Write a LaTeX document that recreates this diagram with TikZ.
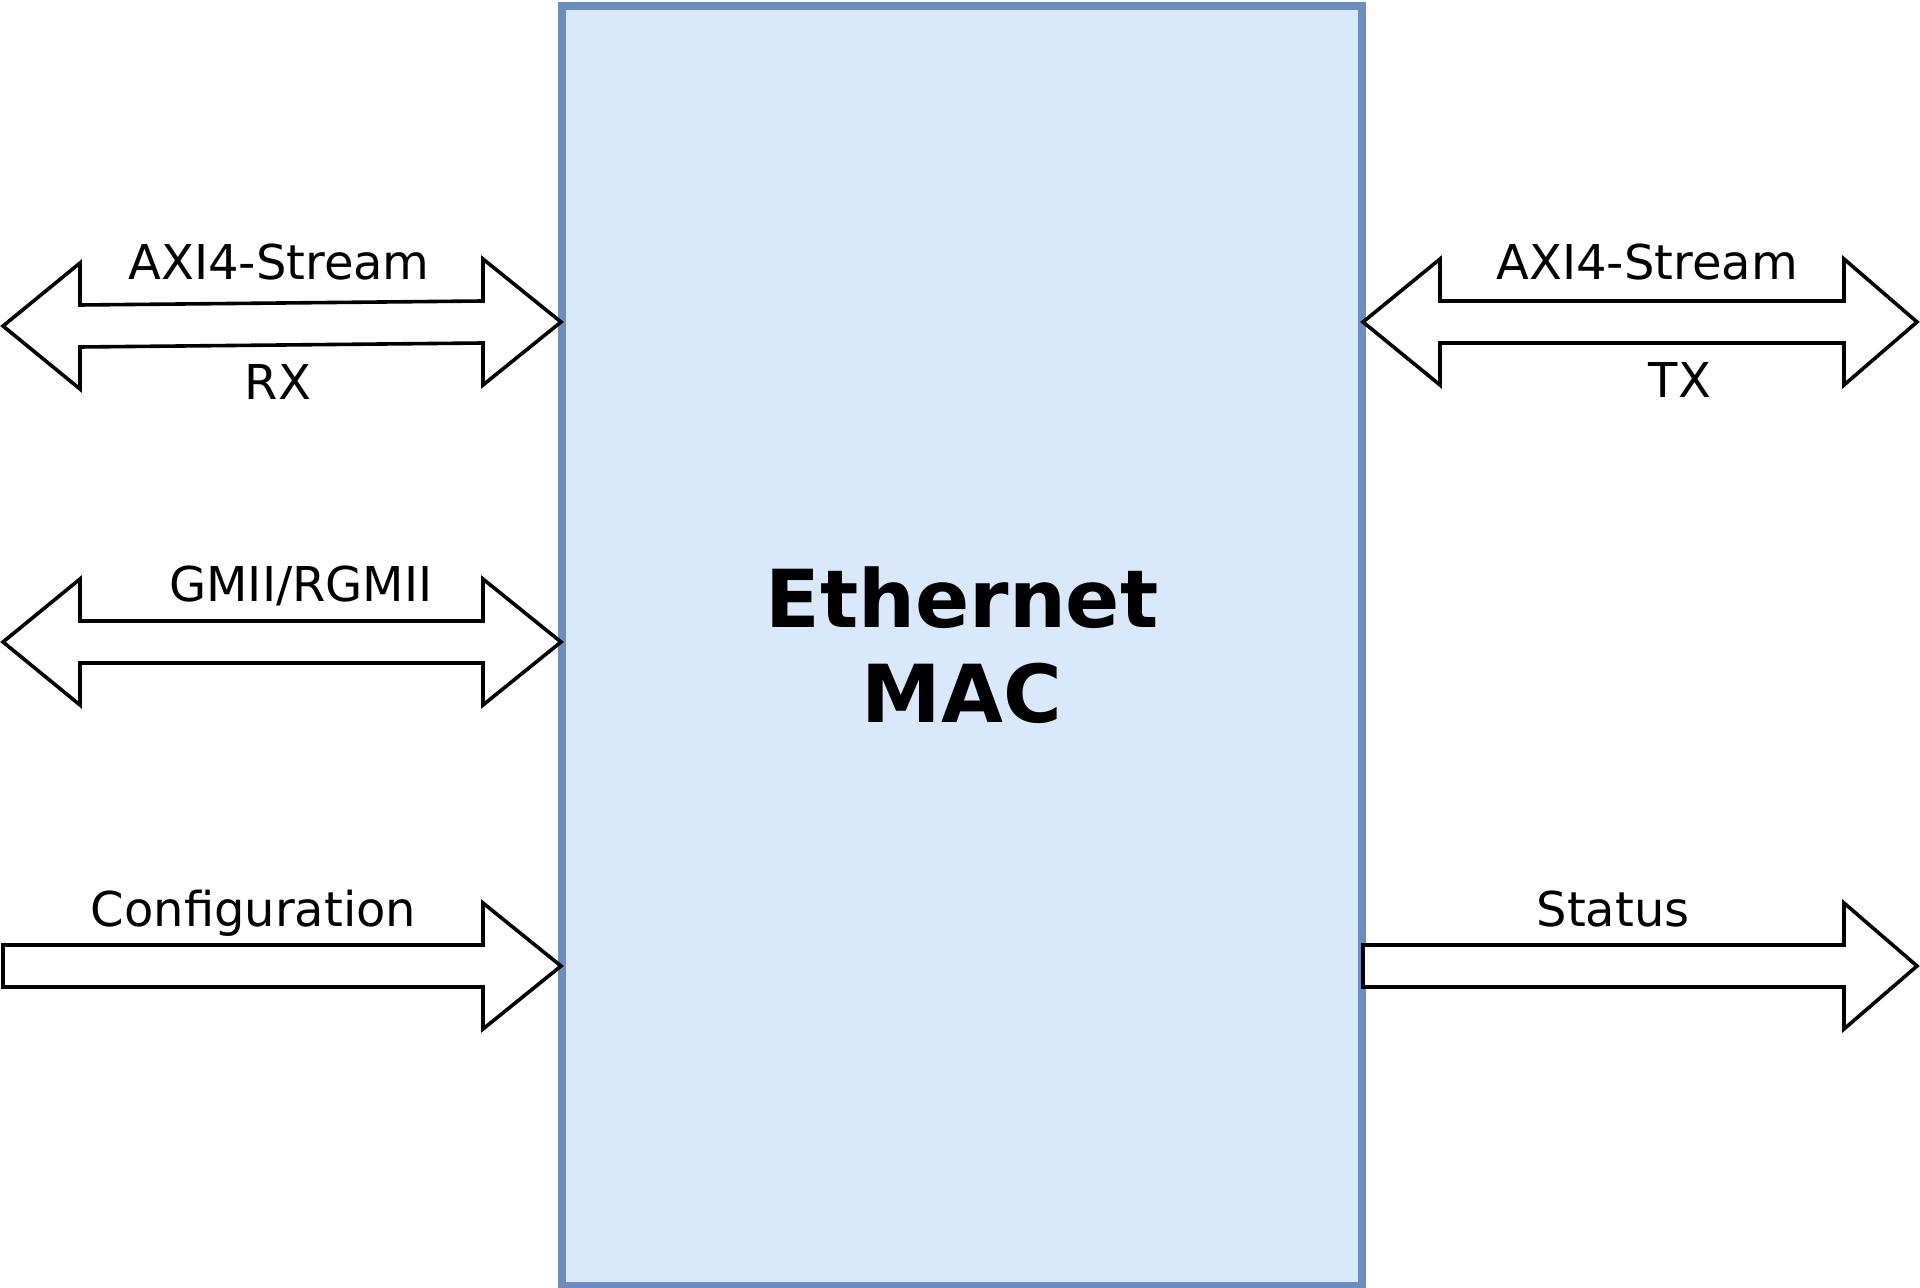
\documentclass[tikz,border=0pt]{standalone}
\usepackage{fontspec}
\setmainfont{DejaVu Sans}
\definecolor{macfill}{HTML}{DAE8FC}
\definecolor{macborder}{HTML}{6C8EBF}
\newcommand\dblarr[5]{% left tip x, right tip x, left y, right y, right head length
  \draw[arrowshape] (#1,#3) -- (#1+77,#3-63) -- (#1+77,#3-21) -- (#2-#5,#4-21) -- (#2-#5,#4-63) -- (#2,#4)
    -- (#2-#5,#4+63) -- (#2-#5,#4+21) -- (#1+77,#3+21) -- (#1+77,#3+63) -- cycle;}
\newcommand\sglarr[4]{% tail x, tip x, y, head length
  \draw[arrowshape] (#1,#3-21) -- (#2-#4,#3-21) -- (#2-#4,#3-63) -- (#2,#3) -- (#2-#4,#3+63)
    -- (#2-#4,#3+21) -- (#1,#3+21) -- cycle;}
\begin{document}
\begin{tikzpicture}[x=0.5pt,y=-0.5pt,
  arrowshape/.style={draw=black, line width=1.8pt, fill=white, line join=miter},
  lbl/.style={font=\fontsize{24pt}{28pt}\selectfont, anchor=base, inner sep=0pt},
  mac/.style={draw=macborder, fill=macfill, line width=4pt, minimum width=400pt, minimum height=640pt, inner sep=0pt},
  title/.style={font=\fontsize{40pt}{48pt}\selectfont\bfseries, anchor=base, inner sep=0pt}]
\useasboundingbox (0,0) rectangle (1920,1288);
% central block
\node[mac] (mac) at (962,646) {};
\node[title] (t1) at (962,627) {Ethernet};
\node[title] (t2) at (962,722) {MAC};
% left side
\dblarr{3}{561}{326}{322}{78}
\node[lbl] (axirx) at (279,280) {AXI4-Stream};
\node[lbl] (rx) at (278,400) {RX};
\dblarr{3}{561}{642}{642}{78}
\node[lbl] (gmii) at (301,601) {GMII/RGMII};
\sglarr{3}{561}{966}{78}
\node[lbl] (cfg) at (253.5,926) {Configuration};
% right side
\dblarr{1363}{1917}{322}{322}{73}
\node[lbl] (axitx) at (1647,280) {AXI4-Stream};
\node[lbl] (tx) at (1680,398) {TX};
\sglarr{1363}{1917}{966}{73}
\node[lbl] (status) at (1613,926) {Status};
\end{tikzpicture}
\end{document}
